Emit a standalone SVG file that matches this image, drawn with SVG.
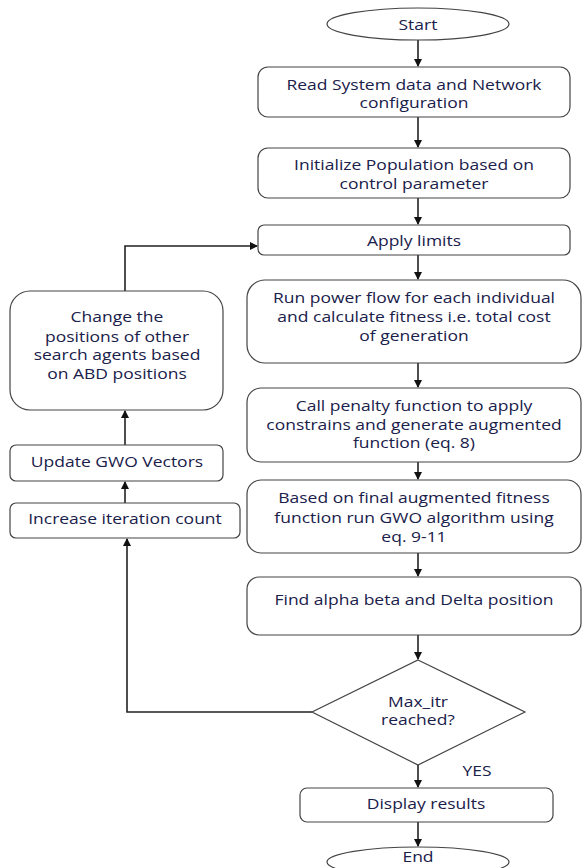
<svg xmlns="http://www.w3.org/2000/svg" width="583" height="868" viewBox="0 0 583 868">
<defs>
<marker id="ah" markerWidth="8" markerHeight="8" refX="7" refY="4" orient="auto" markerUnits="userSpaceOnUse">
<path d="M0,0 L8,4 L0,8 Z" fill="#111"/>
</marker>
<style>
.box{fill:#fff;stroke:#444;stroke-width:1.2}
.t{font-family:"Open Sans","Liberation Sans",sans-serif;font-size:14px;fill:#19204a;text-anchor:middle;dominant-baseline:central}
.c{fill:none;stroke:#222;stroke-width:1.6}
</style>
</defs>
<rect width="583" height="868" fill="#fff"/>
<g id="connectors">
<line class="c" x1="418" y1="40" x2="418" y2="66" marker-end="url(#ah)"/>
<line class="c" x1="418" y1="117" x2="418" y2="147" marker-end="url(#ah)"/>
<line class="c" x1="418" y1="198" x2="418" y2="224" marker-end="url(#ah)"/>
<line class="c" x1="418" y1="255" x2="418" y2="279" marker-end="url(#ah)"/>
<line class="c" x1="418" y1="363" x2="418" y2="387" marker-end="url(#ah)"/>
<line class="c" x1="418" y1="462" x2="418" y2="479" marker-end="url(#ah)"/>
<line class="c" x1="418" y1="553" x2="418" y2="576" marker-end="url(#ah)"/>
<line class="c" x1="418" y1="635" x2="418" y2="659" marker-end="url(#ah)"/>
<line class="c" x1="418" y1="765" x2="418" y2="787" marker-end="url(#ah)"/>
<line class="c" x1="418" y1="822" x2="418" y2="846" marker-end="url(#ah)"/>
<polyline class="c" points="312,712 127,712 127,539" marker-end="url(#ah)"/>
<line class="c" x1="125" y1="503" x2="125" y2="482" marker-end="url(#ah)"/>
<line class="c" x1="125" y1="445" x2="125" y2="411" marker-end="url(#ah)"/>
<polyline class="c" points="125,291 125,246 257,246" marker-end="url(#ah)"/>
</g>
<g id="start">
<ellipse class="box" cx="418" cy="24" rx="91" ry="16"/>
<text class="t" transform="scale(1.25,1)" x="334.4" y="25">Start</text>
</g>
<g id="read">
<rect class="box" x="258" y="67" width="312" height="50" rx="10"/>
<text class="t" transform="scale(1.25,1)" x="331.2" y="85">Read System data and Network</text>
<text class="t" transform="scale(1.25,1)" x="331.2" y="103">configuration</text>
</g>
<g id="init">
<rect class="box" x="258" y="148" width="312" height="50" rx="10"/>
<text class="t" transform="scale(1.25,1)" x="331.2" y="165">Initialize Population based on</text>
<text class="t" transform="scale(1.25,1)" x="331.2" y="184">control parameter</text>
</g>
<g id="limits">
<rect class="box" x="258" y="225" width="312" height="30" rx="6"/>
<text class="t" transform="scale(1.25,1)" x="331.2" y="241">Apply limits</text>
</g>
<g id="powerflow">
<rect class="box" x="247" y="280" width="334" height="83" rx="18"/>
<text class="t" transform="scale(1.25,1)" x="331.2" y="298">Run power flow for each individual</text>
<text class="t" transform="scale(1.25,1)" x="331.2" y="317">and calculate fitness i.e. total cost</text>
<text class="t" transform="scale(1.25,1)" x="331.2" y="336">of generation</text>
</g>
<g id="penalty">
<rect class="box" x="247" y="388" width="334" height="74" rx="14"/>
<text class="t" transform="scale(1.25,1)" x="331.2" y="406">Call penalty function to apply</text>
<text class="t" transform="scale(1.25,1)" x="331.2" y="425">constrains and generate augmented</text>
<text class="t" transform="scale(1.25,1)" x="331.2" y="443">function (eq. 8)</text>
</g>
<g id="gwo">
<rect class="box" x="247" y="480" width="334" height="73" rx="14"/>
<text class="t" transform="scale(1.25,1)" x="331.2" y="498">Based on final augmented fitness</text>
<text class="t" transform="scale(1.25,1)" x="331.2" y="518">function run GWO algorithm using</text>
<text class="t" transform="scale(1.25,1)" x="331.2" y="537">eq. 9-11</text>
</g>
<g id="find">
<rect class="box" x="247" y="577" width="334" height="58" rx="12"/>
<text class="t" transform="scale(1.25,1)" x="331.2" y="600">Find alpha beta and Delta position</text>
</g>
<g id="decision">
<polygon class="box" points="418,660 525,712 418,765 312,712"/>
<text class="t" transform="scale(1.25,1)" x="334.4" y="702">Max_itr</text>
<text class="t" transform="scale(1.25,1)" x="334.4" y="720">reached?</text>
</g>
<text class="t" transform="scale(1.25,1)" x="381.6" y="771">YES</text>
<g id="display">
<rect class="box" x="300" y="788" width="253" height="34" rx="7"/>
<text class="t" transform="scale(1.25,1)" x="340.8" y="804">Display results</text>
</g>
<g id="end">
<ellipse class="box" cx="418" cy="862" rx="91" ry="15"/>
<text class="t" transform="scale(1.25,1)" x="334.4" y="857">End</text>
</g>
<g id="change">
<rect class="box" x="10" y="291" width="213" height="119" rx="20"/>
<text class="t" transform="scale(1.25,1)" x="93.6" y="317">Change the</text>
<text class="t" transform="scale(1.25,1)" x="93.6" y="337">positions of other</text>
<text class="t" transform="scale(1.25,1)" x="93.6" y="355">search agents based</text>
<text class="t" transform="scale(1.25,1)" x="93.6" y="374">on ABD positions</text>
</g>
<g id="update">
<rect class="box" x="10" y="445" width="213" height="36" rx="6"/>
<text class="t" transform="scale(1.25,1)" x="93.6" y="462">Update GWO Vectors</text>
</g>
<g id="increase">
<rect class="box" x="10" y="503" width="230" height="35" rx="6"/>
<text class="t" transform="scale(1.25,1)" x="100" y="519">Increase iteration count</text>
</g>
</svg>
